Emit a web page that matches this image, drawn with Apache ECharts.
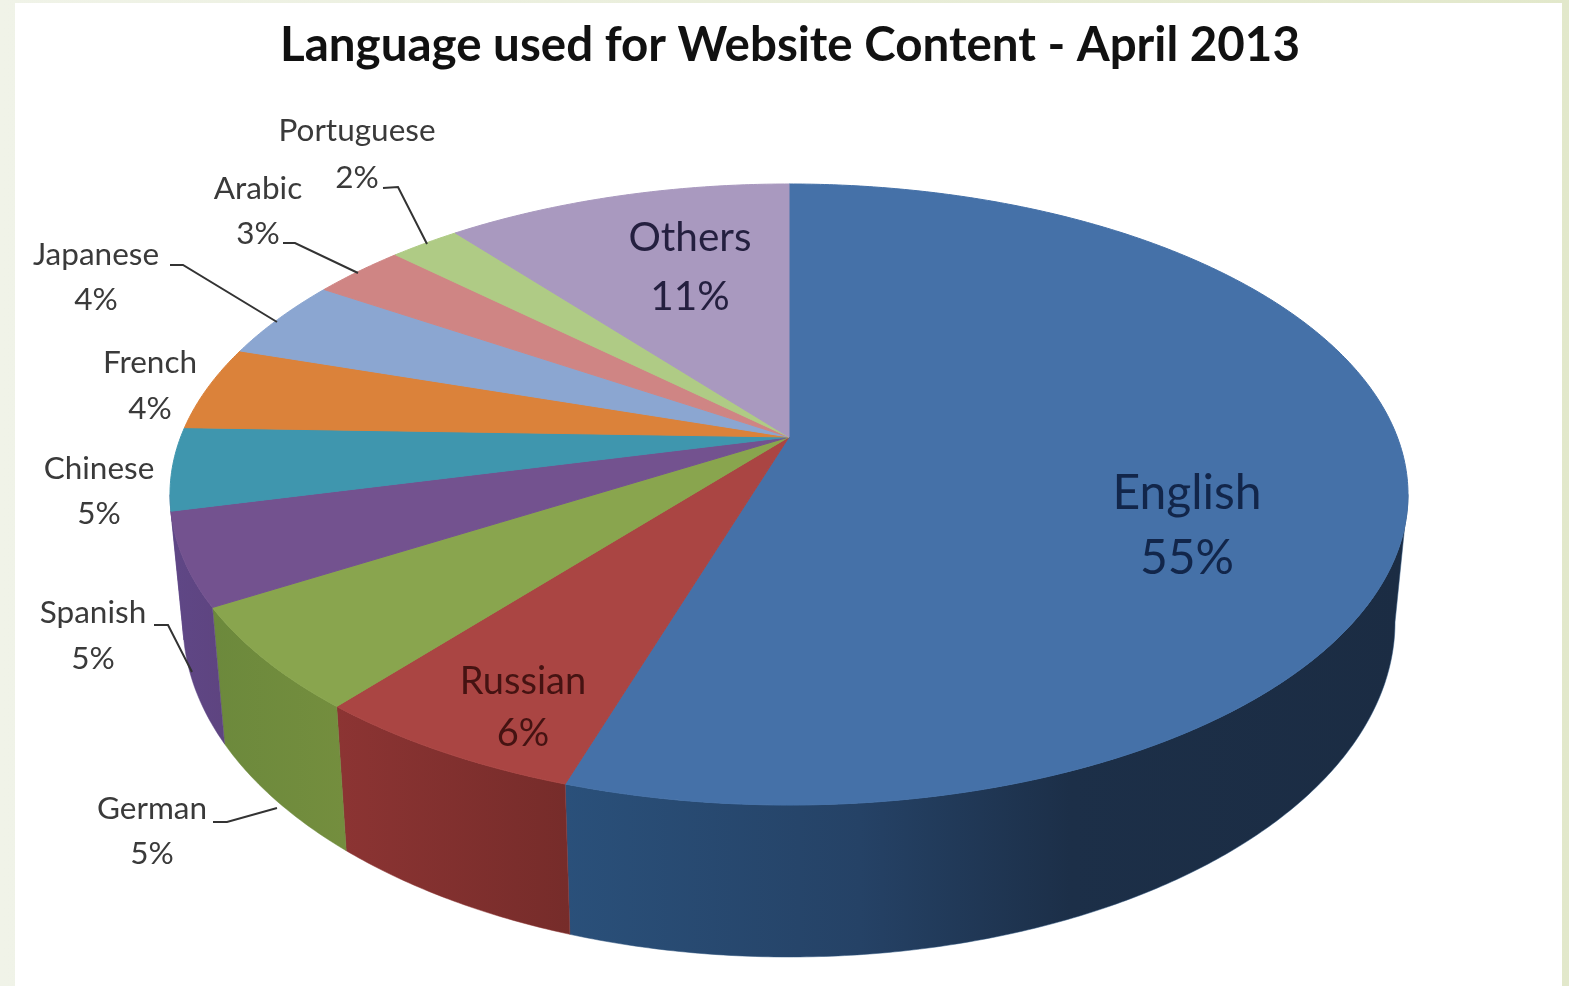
<!DOCTYPE html>
<html>
<head>
<meta charset="utf-8">
<title>Language used for Website Content - April 2013</title>
<style>html,body{margin:0;padding:0;background:#fff;overflow:hidden}#chart{width:1569px;height:986px;filter:blur(0.6px)}</style>
<script src="https://cdn.jsdelivr.net/npm/echarts@6/dist/echarts.min.js"></script>
</head>
<body>
<div id="chart"></div>
<script>
// ---- data ----
var titleText = 'Language used for Website Content - April 2013';
var languages = ['English','Russian','German','Spanish','Chinese','French','Japanese','Arabic','Portuguese','Others'];
var shares = [54.9, 6.1, 5.4, 4.8, 4.3, 4.4, 4.2, 2.9, 2.2, 10.8];
var percentLabels = ['55%','6%','5%','5%','5%','4%','4%','3%','2%','11%'];

// ---- styles and layout ----
var topColors = ['#4571a8','#aa4543','#89a54e','#73528f','#3f96ae','#db823a','#8ba6d1','#cf8584','#afcb85','#a999bf'];
var wallStops = [
  [[0,'#2a507a'],[0.35,'#254266'],[0.6,'#1c2f48'],[1,'#1b2c43']],
  [[0,'#8c3433'],[1,'#762c2a']],
  [[0,'#6c893c'],[1,'#748e3e']],
  [[0,'#5f4786'],[1,'#5e4480']],
  [[0,'#5f4786'],[1,'#5f4786']],
  [[0,'#a86430'],[1,'#a86430']],
  [[0,'#6a80a0'],[1,'#6a80a0']],
  [[0,'#a06a6a'],[1,'#a06a6a']],
  [[0,'#8a9d6c'],[1,'#8a9d6c']],
  [[0,'#82759a'],[1,'#82759a']]
];
var labelCentres = [[1187,526],[523,708],[152,831],[93,636],[99,491],[150,386],[96,277],[258,211],[357,154],[690,267]];
var labelSizes = [48,38,31.5,31.5,31.5,31.5,31.5,31.5,31.5,40.5];
var labelLines = [65,52,45,46,45,46,45,45,47,59];
var labelColors = ['#12264a','#451312','#3a3a3a','#3a3a3a','#3a3a3a','#3a3a3a','#3a3a3a','#3a3a3a','#3a3a3a','#241f3f'];
var leaderLines = {
  German:[[213,822],[227,822],[277,808]],
  Spanish:[[154,625],[168,625],[192,672]],
  Japanese:[[170,265],[183,265],[277,322]],
  Arabic:[[283,243],[295,243],[358,273]],
  Portuguese:[[383,188],[398,187],[427,244]]
};
var FONT = 'Lato, "Open Sans", sans-serif';
var topEllipse = {cx:789, cy:494.5, rx:619, ry:310.5};
var baseEllipse = {cx:789, cy:622, rx:606, ry:335};
var apexShift = 57.5 / 310.5;          // perspective: the pie centre sits above the ellipse centre
var STEP = Math.PI / 360;
var TWO_PI = Math.PI * 2;

function tilt(theta) {
  var s = Math.sin(theta), c = Math.cos(theta), d = 1 + apexShift * c;
  return [s * Math.sqrt(1 - apexShift * apexShift) / d, (c + apexShift) / d];
}
function onEllipse(e, p) { return [e.cx + e.rx * p[0], e.cy - e.ry * p[1]]; }
function sliceAngles(i) {
  var total = shares.reduce(function (a, b) { return a + b; }, 0), before = 0;
  for (var k = 0; k < i; k++) before += shares[k];
  return [before / total * TWO_PI, (before + shares[i]) / total * TWO_PI];
}
function sweep(a, b) {
  var out = [], n = Math.max(2, Math.ceil((b - a) / STEP));
  for (var k = 0; k <= n; k++) out.push(a + (b - a) * k / n);
  return out;
}

function renderWall(params) {
  var i = params.dataIndex, r = sliceAngles(i);
  var lim = Math.acos(-apexShift);
  var a = Math.max(r[0], lim), b = Math.min(r[1], TWO_PI - lim);
  if (b <= a) return null;
  var thetas = sweep(a, b);
  var up = thetas.map(function (t) { return onEllipse(topEllipse, tilt(t)); });
  var down = thetas.map(function (t) { return onEllipse(baseEllipse, tilt(t)); }).reverse();
  var stops = wallStops[i].map(function (s) { return {offset:s[0], color:s[1]}; });
  return {
    type:'polygon', shape:{points:up.concat(down)},
    style:{fill:new echarts.graphic.LinearGradient(0,0,1,0,stops), stroke:wallStops[i][0][1], lineWidth:0.5}
  };
}
function renderTop(params) {
  var i = params.dataIndex, r = sliceAngles(i);
  var pts = sweep(r[0], r[1]).map(function (t) { return onEllipse(topEllipse, tilt(t)); });
  pts.push(onEllipse(topEllipse, [0, apexShift]));
  return {type:'polygon', shape:{points:pts}, style:{fill:topColors[i], stroke:topColors[i], lineWidth:1}};
}
function renderLabel(params) {
  var i = params.dataIndex, name = languages[i], kids = [];
  if (leaderLines[name]) {
    kids.push({type:'polyline', shape:{points:leaderLines[name]}, style:{fill:'none', stroke:'#333', lineWidth:2}});
  }
  kids.push({type:'text', x:labelCentres[i][0], y:labelCentres[i][1], style:{
    text:name + '\n' + percentLabels[i], align:'center', verticalAlign:'middle',
    font:labelSizes[i] + 'px ' + FONT, lineHeight:labelLines[i], fill:labelColors[i]
  }});
  return {type:'group', children:kids};
}

var rows = languages.map(function (n, i) { return {name:n, value:shares[i]}; });
var chart = echarts.init(document.getElementById('chart'), null, {renderer:'canvas'});
chart.setOption({
  animation:false,
  backgroundColor:new echarts.graphic.LinearGradient(0,0,1,0,[{offset:0,color:'#f0f3e8'},{offset:1,color:'#e2e8cb'}]),
  title:{text:titleText, left:275, top:17,
    textStyle:{fontFamily:FONT, fontSize:47.5, fontWeight:'bold', color:'#111'}},
  graphic:[{type:'rect', z:-1, silent:true, shape:{x:15, y:3, width:1547, height:983}, style:{fill:'#fff'}}],
  series:[
    {type:'custom', name:'walls', coordinateSystem:'none', silent:true, z:2, renderItem:renderWall, data:rows},
    {type:'custom', name:'tops', coordinateSystem:'none', silent:true, z:3, renderItem:renderTop, data:rows},
    {type:'custom', name:'labels', coordinateSystem:'none', silent:true, z:4, renderItem:renderLabel, data:rows}
  ]
});
</script>
</body>
</html>
